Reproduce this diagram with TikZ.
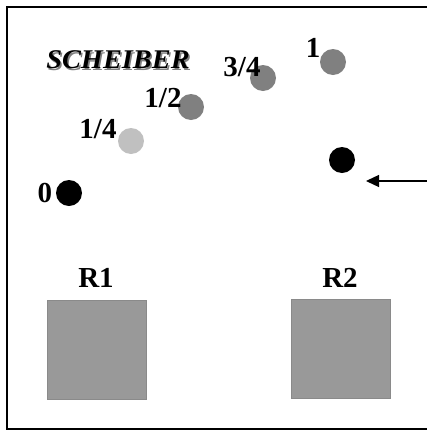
\documentclass[tikz,border=0pt]{standalone}
\usepackage{fontspec}
\setmainfont{Liberation Serif}
\usetikzlibrary{arrows.meta}
\definecolor{dotlight}{HTML}{C0C0C0}
\definecolor{dotgray}{HTML}{808080}
\definecolor{roomfill}{HTML}{999999}
\definecolor{roomedge}{HTML}{8A8A8A}
\tikzset{
  dot/.style={circle, inner sep=0pt, minimum size=26pt},
  frac/.style={font=\bfseries\fontsize{29}{29}\selectfont, inner sep=0pt},
  room/.style={draw=roomedge, fill=roomfill, line width=1.2pt, minimum size=99pt, inner sep=0pt}
}
\begin{document}
\begin{tikzpicture}[x=1pt, y=-1pt]
  \useasboundingbox (0,0) rectangle (427,432);
  \clip (0,0) rectangle (427,432);
  \draw[line width=1.4pt] (7,7) rectangle (460,429);

  % name of the scheme
  \node[font=\bfseries\itshape\fontsize{27}{27}\selectfont, text=gray, inner sep=0pt, xscale=1.05] (nameshadow) at (119.5,61.5) {SCHEIBER};
  \node[font=\bfseries\itshape\fontsize{27}{27}\selectfont, inner sep=0pt, xscale=1.05] (name) at (118,60) {SCHEIBER};

  % positions of the particle
  \node[dot, fill=black] (p0) at (69,193) {};
  \node[dot, fill=dotlight] (p1) at (131,141) {};
  \node[dot, fill=dotgray] (p2) at (191,107) {};
  \node[dot, fill=dotgray] (p3) at (263,78) {};
  \node[dot, fill=dotgray] (p4) at (333,62) {};
  \node[dot, fill=black] (pr) at (342,160) {};

  \node[frac] (l0) at (45,193) {0};
  \node[frac] (l1) at (98,129) {1/4};
  \node[frac] (l2) at (163,98) {1/2};
  \node[frac] (l3) at (242,67) {3/4};
  \node[frac] (l4) at (313,48) {1};

  \coordinate (arrfrom) at (440,181);
  \coordinate (arrto) at (366,181);
  \draw[line width=1.3pt, -{Triangle[length=13pt, width=12pt]}] (arrfrom) -- (arrto);

  % the two rooms
  \node[room] (r1) at (97,350) {};
  \node[room] (r2) at (341,349) {};
  \node[frac] (r1lbl) at (96,278) {R1};
  \node[frac] (r2lbl) at (340,278) {R2};
\end{tikzpicture}
\end{document}
